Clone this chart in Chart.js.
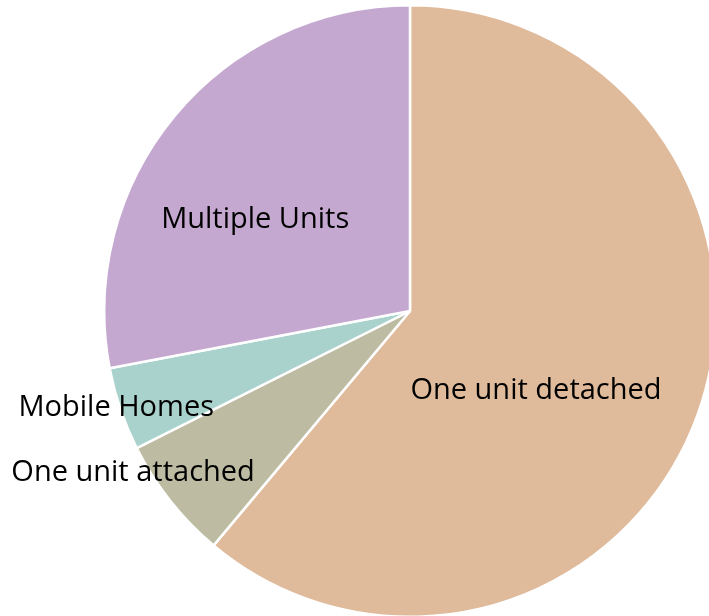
<!DOCTYPE html>
<html>
<head>
<meta charset="utf-8">
<script src="https://cdn.jsdelivr.net/npm/chart.js@4"></script>
<style>
  html, body { margin: 0; padding: 0; background: #fff; overflow: hidden; }
  #wrap { position: absolute; left: 0; top: 4px; }
</style>
</head>
<body>
<div id="wrap"><canvas id="housingChart" width="820" height="614"></canvas></div>
<script>
// housing units by type, percent of total (clockwise from 12 o'clock)
const categories = ['One unit detached', 'One unit attached', 'Mobile Homes', 'Multiple Units'];
const shares = [61.1, 6.5, 4.4, 28.0];
const sliceColors = ['#dfba9b', '#bdbca3', '#a9d2cc', '#c4a8d0'];

// label placement: angle (deg, clockwise from top) and distance as fraction of radius
const labelAngles = [122.4, 239.7, 251.7, 300.4];
const labelRadius = [0.488, 1.049, 1.012, 0.587];

const sliceLabels = {
    id: 'sliceLabels',
    afterDatasetsDraw(chart) {
        const ctx = chart.ctx;
        const arcs = chart.getDatasetMeta(0).data;
        ctx.save();
        ctx.font = '29px "Open Sans", "Noto Sans", sans-serif';
        ctx.fillStyle = '#000';
        ctx.textAlign = 'center';
        ctx.textBaseline = 'middle';
        arcs.forEach((arc, i) => {
            const a = labelAngles[i] * Math.PI / 180;
            const r = arc.outerRadius * labelRadius[i];
            ctx.fillText(categories[i], arc.x + r * Math.sin(a), arc.y - r * Math.cos(a));
        });
        ctx.restore();
    }
};

new Chart(document.getElementById('housingChart'), {
    type: 'pie',
    data: {
        labels: categories,
        datasets: [{
            data: shares,
            backgroundColor: sliceColors,
            borderColor: '#fff',
            borderWidth: 2.5
        }]
    },
    options: {
        responsive: false,
        animation: false,
        layout: { padding: 0 },
        plugins: {
            legend: { display: false },
            tooltip: { enabled: false }
        }
    },
    plugins: [sliceLabels]
});
</script>
</body>
</html>
